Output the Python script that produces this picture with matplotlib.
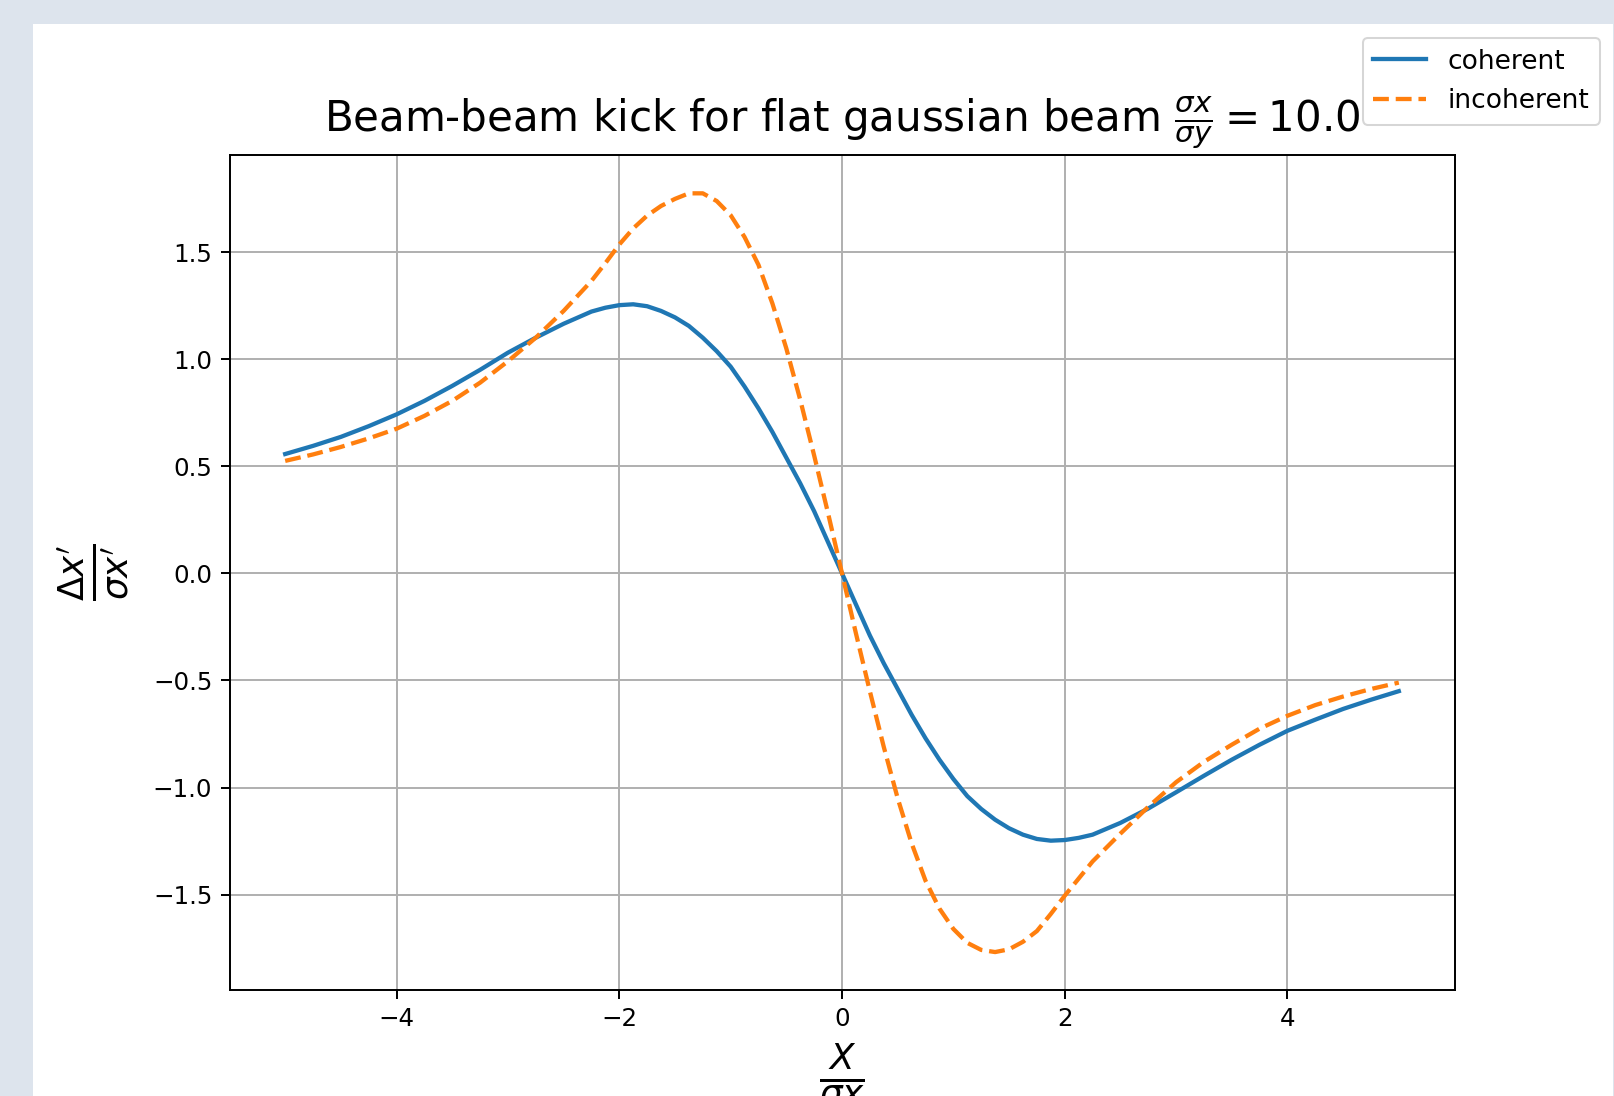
import numpy as np
import matplotlib
matplotlib.use("Agg")
import matplotlib.pyplot as plt
from matplotlib.patches import Rectangle

# x positions in units of sigma_x
x_pos = [-5.0, -4.75, -4.5, -4.25, -4.0, -3.75, -3.5, -3.25, -3.0, -2.75,
         -2.5, -2.25, -2.125, -2.0, -1.875, -1.75, -1.625, -1.5, -1.375, -1.25, -1.125,
         -1.0, -0.875, -0.75, -0.625, -0.5, -0.375, -0.25, -0.125, 0.0,
         0.125, 0.25, 0.375, 0.5, 0.625, 0.75, 0.875, 1.0, 1.125, 1.25,
         1.375, 1.5, 1.625, 1.75, 1.875, 2.0, 2.125, 2.25, 2.5, 2.75, 3.0,
         3.25, 3.5, 3.75, 4.0, 4.25, 4.5, 4.75, 5.0]

coherent = [0.557, 0.595, 0.637, 0.687, 0.742, 0.805, 0.875, 0.95, 1.03, 1.10,
            1.165, 1.222, 1.24, 1.252, 1.256, 1.247, 1.225, 1.195, 1.155, 1.10, 1.037,
            0.965, 0.872, 0.77, 0.66, 0.54, 0.42, 0.29, 0.145, 0.0,
            -0.145, -0.29, -0.42, -0.54, -0.66, -0.77, -0.87, -0.96, -1.04, -1.10,
            -1.15, -1.19, -1.22, -1.24, -1.248, -1.245, -1.235, -1.22, -1.165, -1.098, -1.022,
            -0.945, -0.87, -0.80, -0.735, -0.683, -0.633, -0.59, -0.55]

incoherent = [0.525, 0.555, 0.59, 0.63, 0.675, 0.735, 0.805, 0.89, 0.99, 1.10,
              1.225, 1.365, 1.448, 1.535, 1.61, 1.67, 1.715, 1.748, 1.774, 1.774, 1.738,
              1.672, 1.57, 1.44, 1.26, 1.05, 0.81, 0.55, 0.28, 0.0,
              -0.28, -0.55, -0.81, -1.05, -1.26, -1.435, -1.565, -1.66, -1.725, -1.758,
              -1.768, -1.755, -1.72, -1.67, -1.59, -1.505, -1.425, -1.345, -1.215, -1.09, -0.975,
              -0.88, -0.80, -0.725, -0.665, -0.615, -0.575, -0.54, -0.51]

ratio = 10.0

W, H, DPI = 1614, 1096, 147
s = 1.2  # the original was drawn a little larger than default
plt.rcParams['lines.linewidth'] = 2.1
plt.rcParams['grid.linewidth'] = 0.8 * s
plt.rcParams['axes.linewidth'] = 0.8 * s
for a in ('xtick', 'ytick'):
    plt.rcParams[a + '.major.size'] = 3.5 * s
    plt.rcParams[a + '.major.width'] = 0.8 * s
    plt.rcParams[a + '.major.pad'] = 3.5 * s
    plt.rcParams[a + '.labelsize'] = 12

fig = plt.figure(figsize=(W / DPI, H / DPI), dpi=DPI, facecolor='#dde4ed')
fig.patches.append(Rectangle((33 / W, 0), 1580 / W, (H - 24) / H,
                             transform=fig.transFigure, facecolor='white',
                             edgecolor='none', zorder=-10))

ax = fig.add_axes([229.5 / W, 1 - 990 / H, 1225 / W, 834.6 / H])
ax.plot(x_pos, coherent, '-', label='coherent')
ax.plot(x_pos, incoherent, '--', label='incoherent')
ax.grid(True)

ax.set_title(r"Beam-beam kick for flat gaussian beam $\frac{\sigma x}{\sigma y} = %.1f$" % ratio,
             fontsize=20.6, pad=12)
ax.set_xlabel(r"$\frac{X}{\sigma x}$", fontsize=25, labelpad=5)
ax.set_ylabel(r"$\frac{\Delta x'}{\sigma x'}$", fontsize=25, labelpad=10)

fig.legend(loc='upper right', bbox_to_anchor=(1600 / W, 1 - 38 / H),
           borderaxespad=0, fontsize=13)

fig.savefig('out.png', dpi=DPI, facecolor=fig.get_facecolor())
